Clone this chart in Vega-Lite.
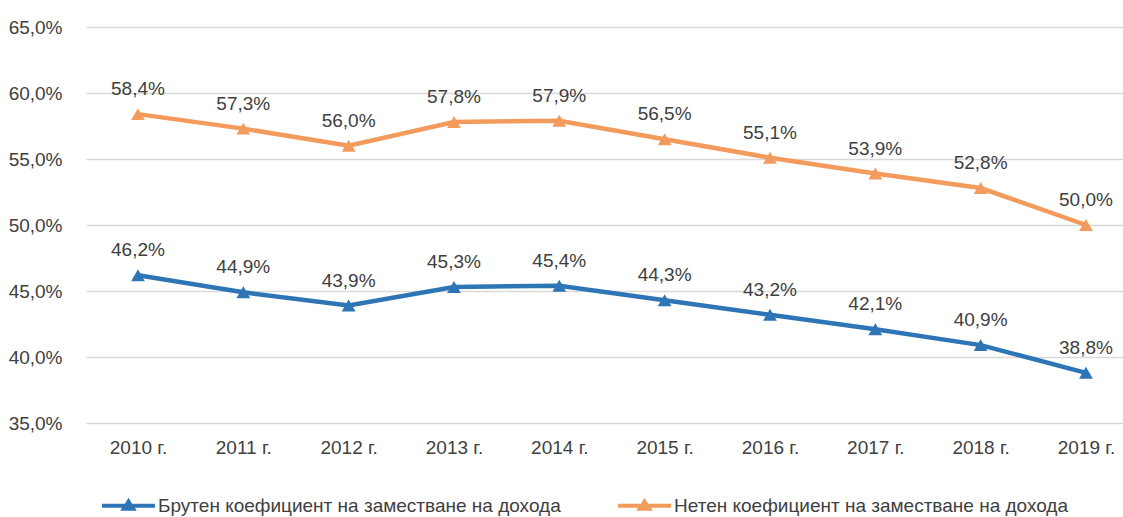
{
  "$schema": "https://vega.github.io/schema/vega-lite/v6.json",
  "autosize": "none",
  "width": 1037,
  "height": 396,
  "padding": {"left": 86, "top": 27, "right": 0, "bottom": 94},
  "background": "white",
  "config": {
    "locale": {"number": {"decimal": ",", "thousands": " ", "grouping": [3], "currency": ["", ""]}},
    "view": {"stroke": null},
    "font": "Liberation Sans",
    "text": {"font": "Liberation Sans"}
  },
  "data": {
    "values": [
      {"year": "2010 г.", "series": "Брутен коефициент на заместване на дохода", "value": 0.462},
      {"year": "2011 г.", "series": "Брутен коефициент на заместване на дохода", "value": 0.449},
      {"year": "2012 г.", "series": "Брутен коефициент на заместване на дохода", "value": 0.439},
      {"year": "2013 г.", "series": "Брутен коефициент на заместване на дохода", "value": 0.453},
      {"year": "2014 г.", "series": "Брутен коефициент на заместване на дохода", "value": 0.454},
      {"year": "2015 г.", "series": "Брутен коефициент на заместване на дохода", "value": 0.443},
      {"year": "2016 г.", "series": "Брутен коефициент на заместване на дохода", "value": 0.432},
      {"year": "2017 г.", "series": "Брутен коефициент на заместване на дохода", "value": 0.421},
      {"year": "2018 г.", "series": "Брутен коефициент на заместване на дохода", "value": 0.409},
      {"year": "2019 г.", "series": "Брутен коефициент на заместване на дохода", "value": 0.388},
      {"year": "2010 г.", "series": "Нетен коефициент на заместване на дохода", "value": 0.584},
      {"year": "2011 г.", "series": "Нетен коефициент на заместване на дохода", "value": 0.573},
      {"year": "2012 г.", "series": "Нетен коефициент на заместване на дохода", "value": 0.560},
      {"year": "2013 г.", "series": "Нетен коефициент на заместване на дохода", "value": 0.578},
      {"year": "2014 г.", "series": "Нетен коефициент на заместване на дохода", "value": 0.579},
      {"year": "2015 г.", "series": "Нетен коефициент на заместване на дохода", "value": 0.565},
      {"year": "2016 г.", "series": "Нетен коефициент на заместване на дохода", "value": 0.551},
      {"year": "2017 г.", "series": "Нетен коефициент на заместване на дохода", "value": 0.539},
      {"year": "2018 г.", "series": "Нетен коефициент на заместване на дохода", "value": 0.528},
      {"year": "2019 г.", "series": "Нетен коефициент на заместване на дохода", "value": 0.500}
    ]
  },
  "encoding": {
    "x": {
      "field": "year", "type": "nominal", "sort": null,
      "scale": {"type": "point", "padding": 0.4225, "align": 0.584},
      "axis": {
        "title": null, "domain": false, "ticks": false, "grid": false,
        "labelAngle": 0, "labelFontSize": 19, "labelColor": "#404040",
        "labelPadding": 15, "labelFont": "Liberation Sans"
      }
    },
    "y": {
      "field": "value", "type": "quantitative",
      "scale": {"domain": [0.35, 0.65], "nice": false, "zero": false},
      "axis": {
        "title": null, "domain": false, "ticks": false,
        "values": [0.35, 0.40, 0.45, 0.50, 0.55, 0.60, 0.65],
        "format": ".1%", "labelFontSize": 19, "labelColor": "#404040",
        "labelPadding": 24, "labelFont": "Liberation Sans",
        "gridColor": "#d9d9d9", "gridWidth": 1.5
      }
    },
    "color": {
      "field": "series", "type": "nominal",
      "scale": {
        "domain": ["Брутен коефициент на заместване на дохода", "Нетен коефициент на заместване на дохода"],
        "range": ["#2E75B6", "#F39B5C"]
      },
      "legend": {
        "title": null, "orient": "none", "direction": "horizontal", "columns": 2,
        "legendX": 16, "legendY": 452,
        "symbolType": "M-1,-0.075 L-0.135,-0.075 L0,-0.3 L0.135,-0.075 L1,-0.075 L1,0.075 L0.245,0.075 L0.31,0.19 L-0.31,0.19 L-0.245,0.075 L-1,0.075 Z",
        "symbolSize": 2809, "symbolStrokeWidth": 0,
        "labelFontSize": 19, "labelColor": "#404040", "labelFont": "Liberation Sans",
        "labelOffset": 3, "columnPadding": 57, "labelLimit": 600,
        "encode": {"symbols": {"update": {"fill": {"scale": "color", "field": "value"}, "fillOpacity": {"value": 1}, "strokeWidth": {"value": 0}}}}
      }
    }
  },
  "layer": [
    {"mark": {"type": "line", "strokeWidth": 4.5}},
    {"mark": {"type": "point", "shape": "triangle-up", "filled": true, "size": 190, "opacity": 1}},
    {
      "mark": {"type": "text", "dy": -25, "fontSize": 19, "color": "#404040", "font": "Liberation Sans"},
      "encoding": {"text": {"field": "value", "type": "quantitative", "format": ".1%"}, "color": {"value": "#404040"}}
    }
  ]
}
